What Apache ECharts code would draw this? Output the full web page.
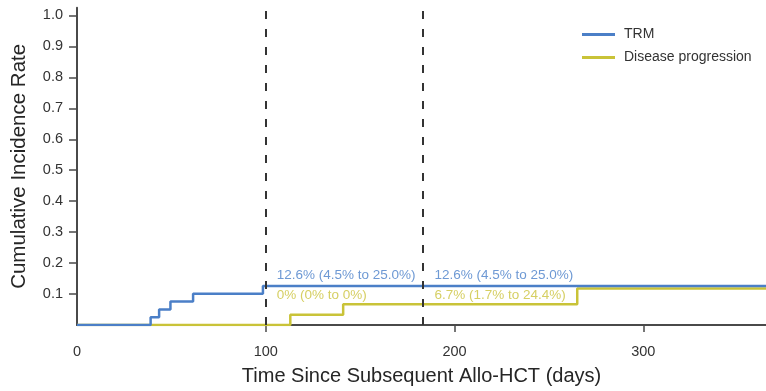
<!DOCTYPE html>
<html>
<head>
<meta charset="utf-8">
<script src="https://cdn.jsdelivr.net/npm/echarts@6/dist/echarts.min.js"></script>
<style>
  html, body { margin: 0; padding: 0; background: #ffffff; }
  #chart { width: 766px; height: 391px; }
</style>
</head>
<body>
<div id="chart"></div>
<script>
// Cumulative incidence step curves: [day, cumulative incidence]
const trmCurve = [[0, 0], [39, 0.025], [43.5, 0.05], [49.5, 0.076], [61.5, 0.101], [98.5, 0.126], [365, 0.126]];
const progressionCurve = [[0, 0], [113, 0.033], [141, 0.067], [265, 0.118], [365, 0.118]];

// Landmark time points (days) with estimates and 95% CI (percent)
const landmarkDays = [100, 183];
const trmEstimate = [12.6, 12.6];
const trmLower = [4.5, 4.5];
const trmUpper = [25.0, 25.0];
const progEstimate = [0, 6.7];
const progLower = [0, 1.7];
const progUpper = [0, 24.4];

const yTickValues = [0.1, 0.2, 0.3, 0.4, 0.5, 0.6, 0.7, 0.8, 0.9, 1.0];
const xTickValues = [0, 100, 200, 300];

const BLUE = '#4b7fc7';
const BLUE_TEXT = '#6e99d4';
const YELLOW = '#c9c338';
const YELLOW_TEXT = '#d6cf63';
const AXIS = '#4a4a4a';
const FONT = '"Liberation Sans", Arial, sans-serif';

function fmt(v) {
  return v === 0 ? '0%' : v.toFixed(1) + '%';
}
function ciText(est, lo, hi) {
  return fmt(est) + ' (' + fmt(lo) + ' to ' + fmt(hi) + ')';
}
// value of a step curve at a given day
function valueAt(curve, day) {
  let v = curve[0][1];
  for (const [d, y] of curve) { if (d <= day) v = y; }
  return v;
}

function annotations(curve, est, lo, hi, color, dy) {
  return landmarkDays.map((day, i) => ({
    coord: [day, valueAt(curve, day)],
    symbol: 'circle',
    symbolSize: 0,
    label: {
      show: true,
      formatter: ciText(est[i], lo[i], hi[i]),
      position: 'right',
      offset: [6 + (i === 1 ? 1 : 0), dy(valueAt(curve, day))],
      color: color,
      fontFamily: FONT,
      fontSize: 13.5
    }
  }));
}

const PX_PER_UNIT = 311; // vertical scale of the plotting area
const chart = echarts.init(document.getElementById('chart'), null, { renderer: 'canvas' });

chart.setOption({
  animation: false,
  backgroundColor: '#ffffff',
  grid: { left: 77, right: 0, top: 7.7, bottom: 64.5, containLabel: false },
  legend: {
    orient: 'vertical',
    left: 577,
    top: 22,
    itemWidth: 33,
    itemHeight: 3,
    itemGap: 8,
    icon: 'rect',
    textStyle: { fontFamily: FONT, fontSize: 14, color: '#333333', lineHeight: 15, padding: [0, 0, 0, 4] },
    data: ['TRM', 'Disease progression']
  },
  xAxis: {
    type: 'value',
    min: 0,
    max: 365,
    name: 'Time Since Subsequent Allo-HCT (days)',
    nameLocation: 'middle',
    nameGap: 41,
    nameTextStyle: { fontFamily: FONT, fontSize: 20, color: '#262626' },
    axisLine: { lineStyle: { color: AXIS, width: 2 } },
    axisTick: { customValues: xTickValues.slice(1), length: 7, lineStyle: { color: AXIS, width: 1.5 } },
    axisLabel: { customValues: xTickValues, margin: 19, fontFamily: FONT, fontSize: 14.5, color: '#333333' },
    splitLine: { show: false }
  },
  yAxis: {
    type: 'value',
    min: 0,
    max: 1.025,
    name: 'Cumulative Incidence Rate',
    nameLocation: 'middle',
    nameGap: 47,
    nameTextStyle: { fontFamily: FONT, fontSize: 20.5, color: '#262626' },
    axisLine: { show: true, lineStyle: { color: AXIS, width: 2 } },
    axisTick: { show: true, customValues: yTickValues, length: 8, lineStyle: { color: AXIS, width: 1.5 } },
    axisLabel: {
      customValues: yTickValues, margin: 14, fontFamily: FONT, fontSize: 14.5, color: '#333333',
      formatter: v => v.toFixed(1)
    },
    splitLine: { show: false }
  },
  series: [
    {
      name: 'TRM',
      type: 'line',
      step: 'end',
      z: 4,
      data: trmCurve,
      symbol: 'none',
      color: BLUE,
      lineStyle: { color: BLUE, width: 2.5 },
      markLine: {
        silent: true,
        symbol: 'none',
        label: { show: false },
        lineStyle: { color: '#333333', width: 2, type: [8, 10] },
        data: landmarkDays.map(d => ({ xAxis: d }))
      },
      markPoint: {
        silent: true,
        data: annotations(trmCurve, trmEstimate, trmLower, trmUpper, BLUE_TEXT, v => -11)
      }
    },
    {
      name: 'Disease progression',
      type: 'line',
      step: 'end',
      z: 3,
      data: progressionCurve,
      symbol: 'none',
      color: YELLOW,
      lineStyle: { color: YELLOW, width: 2.5 },
      markPoint: {
        silent: true,
        // both progression labels sit on one row at 0.095
        data: annotations(progressionCurve, progEstimate, progLower, progUpper, YELLOW_TEXT,
          v => -(0.095 - v) * PX_PER_UNIT)
      }
    }
  ]
});
</script>
</body>
</html>
